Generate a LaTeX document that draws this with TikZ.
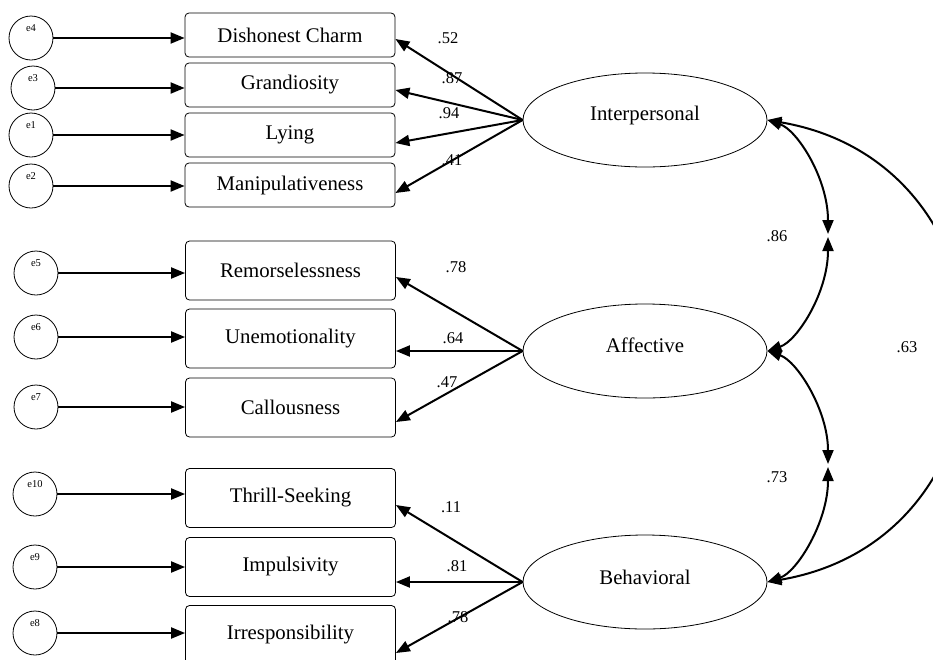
\documentclass[tikz,border=0pt]{standalone}
\usepackage{fontspec}
\setmainfont{Liberation Serif}
\usetikzlibrary{arrows.meta,shapes.geometric,calc}
\begin{document}
\begin{tikzpicture}[x=1pt,y=-1pt,
  obs/.style={draw,line width=0.8pt,rounded corners=4pt,minimum width=210pt,inner sep=0pt,font=\fontsize{20.8}{24}\selectfont},
  obsA/.style={obs,minimum height=44pt},
  obsB/.style={obs,minimum height=59pt},
  lat/.style={draw,line width=0.8pt,ellipse,minimum width=244pt,minimum height=94pt,inner sep=0pt},
  lattext/.style={font=\fontsize{20.8}{24}\selectfont,inner sep=0pt},
  err/.style={draw,line width=0.8pt,circle,minimum size=44pt,inner sep=0pt},
  elab/.style={font=\fontsize{10.5}{12}\selectfont,inner sep=0pt},
  coef/.style={font=\fontsize{16.5}{19}\selectfont,inner sep=0pt},
  arr/.style={line width=2pt,-{Triangle[length=14pt,width=11pt]}},
  cov/.style={line width=2pt,{Triangle[length=14pt,width=11pt]}-{Triangle[length=14pt,width=11pt]}}
]
\useasboundingbox (0,0) rectangle (933,659);
\clip (0,0) rectangle (933,659);

% observed variables
\node[obsA] (dc) at (290,35) {Dishonest Charm};
\node[obsA] (gr) at (290,85) {Grandiosity};
\node[obsA] (ly) at (290,135) {Lying};
\node[obsA] (ma) at (290,185) {Manipulativeness};
\node[obsB] (re) at (290.5,270.5) {Remorselessness};
\node[obsB] (un) at (290.5,338.5) {Unemotionality};
\node[obsB] (ca) at (290.5,407.5) {Callousness};
\node[obsB] (th) at (290.5,498) {Thrill-Seeking};
\node[obsB] (im) at (290.5,567) {Impulsivity};
\node[obsB] (ir) at (290.5,635) {Irresponsibility};

% latent variables
\node[lat] (ip) at (645,120) {};
\node[lattext] (tip) at (645,115) {Interpersonal};
\node[lat] (af) at (645,351) {};
\node[lattext] (taf) at (645,345) {Affective};
\node[lat] (bh) at (645,582) {};
\node[lattext] (tbh) at (645,577) {Behavioral};

% error terms
\node[err] (e4) at (31,38) {};
\node[err] (e3) at (33,88) {};
\node[err] (e1) at (31,135) {};
\node[err] (e2) at (31,186) {};
\node[err] (e5) at (36,273) {};
\node[err] (e6) at (36,337) {};
\node[err] (e7) at (36,407) {};
\node[err] (e10) at (35,494) {};
\node[err] (e9) at (35,567) {};
\node[err] (e8) at (35,633) {};
\node[elab] (le4) at ([yshift=10pt]e4.center) {e4};
\node[elab] (le3) at ([yshift=10pt]e3.center) {e3};
\node[elab] (le1) at ([yshift=10pt]e1.center) {e1};
\node[elab] (le2) at ([yshift=10pt]e2.center) {e2};
\node[elab] (le5) at ([yshift=10pt]e5.center) {e5};
\node[elab] (le6) at ([yshift=10pt]e6.center) {e6};
\node[elab] (le7) at ([yshift=10pt]e7.center) {e7};
\node[elab] (le10) at ([yshift=10pt]e10.center) {e10};
\node[elab] (le9) at ([yshift=10pt]e9.center) {e9};
\node[elab] (le8) at ([yshift=10pt]e8.center) {e8};

% error arrows
\draw[arr] (e4) -- (e4 -| dc.west);
\draw[arr] (e3) -- (e3 -| gr.west);
\draw[arr] (e1) -- (e1 -| ly.west);
\draw[arr] (e2) -- (e2 -| ma.west);
\draw[arr] (e5) -- (e5 -| re.west);
\draw[arr] (e6) -- (e6 -| un.west);
\draw[arr] (e7) -- (e7 -| ca.west);
\draw[arr] (e10) -- (e10 -| th.west);
\draw[arr] (e9) -- (e9 -| im.west);
\draw[arr] (e8) -- (e8 -| ir.west);

% loadings
\draw[arr] (ip.west) -- ([yshift=-4pt]dc.east);
\draw[arr] (ip.west) -- ([yshift=-5pt]gr.east);
\draw[arr] (ip.west) -- ([yshift=-8pt]ly.east);
\draw[arr] (ip.west) -- ([yshift=-8pt]ma.east);
\draw[arr] (af.west) -- ([yshift=-6.5pt]re.east);
\draw[arr] (af.west) -- (af.west -| un.east);
\draw[arr] (af.west) -- ([yshift=-14.5pt]ca.east);
\draw[arr] (bh.west) -- ([yshift=-7pt]th.east);
\draw[arr] (bh.west) -- (bh.west -| im.east);
\draw[arr] (bh.west) -- ([yshift=-18pt]ir.east);

\node[coef] (c1) at (448,38) {.52};
\node[coef] (c2) at (452,78) {.87};
\node[coef] (c3) at (449,113) {.94};
\node[coef] (c4) at (452,160) {.41};
\node[coef] (c5) at (456,267) {.78};
\node[coef] (c6) at (453,338) {.64};
\node[coef] (c7) at (447,382) {.47};
\node[coef] (c8) at (451,507) {.11};
\node[coef] (c9) at (457,566) {.81};
\node[coef] (c10) at (458,617) {.78};

% covariances
\coordinate (m1a) at (828,234);
\coordinate (m1b) at (828,237);
\coordinate (m2a) at (828,464);
\coordinate (m2b) at (828,467);
\draw[cov] (ip.east) .. controls (797,130) and (828,178) .. (m1a);
\draw[cov] (af.east) .. controls (797,341) and (828,293) .. (m1b);
\draw[cov] (af.east) .. controls (797,361) and (828,410) .. (m2a);
\draw[cov] (bh.east) .. controls (797,572) and (828,522) .. (m2b);
\draw[cov] (ip.east) .. controls (1030,165) and (1030,537) .. (bh.east);

\node[coef] (c11) at (777,236) {.86};
\node[coef] (c12) at (777,477) {.73};
\node[coef] (c13) at (907,347) {.63};
\end{tikzpicture}
\end{document}
